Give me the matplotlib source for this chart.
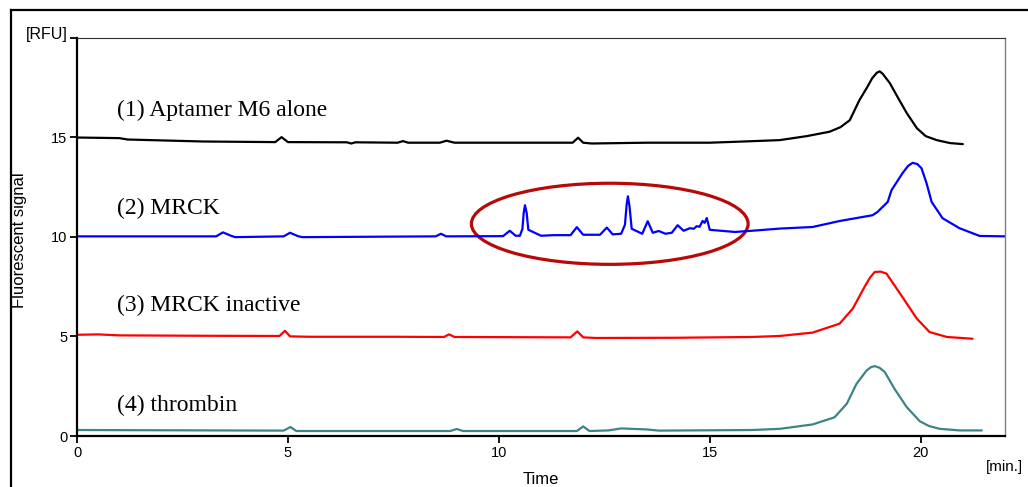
import matplotlib
matplotlib.use("Agg")
import matplotlib.pyplot as plt
from matplotlib.patches import Ellipse
from matplotlib.lines import Line2D

# ---- data (time in min, signal in RFU) ----
t_apt = [0, 1.0, 1.2, 3.0, 4.7, 4.85, 5.0, 6.4, 6.5, 6.6, 7.6, 7.73, 7.85, 8.6, 8.76, 8.95,
         11.75, 11.88, 12.0, 12.2, 13.5, 15.0, 15.8, 16.66, 17.3, 17.84, 18.1, 18.32, 18.55,
         18.74, 18.85, 18.96, 19.03, 19.10, 19.27, 19.47, 19.67, 19.91, 20.12, 20.38, 20.7, 21.0]
v_apt = [14.98, 14.95, 14.88, 14.78, 14.75, 15.0, 14.75, 14.74, 14.68, 14.74, 14.72, 14.8, 14.72,
         14.72, 14.82, 14.72, 14.72, 14.97, 14.72, 14.68, 14.72, 14.72, 14.78, 14.85, 15.05,
         15.27, 15.5, 15.85, 16.86, 17.53, 17.95, 18.23, 18.3, 18.18, 17.71, 16.95, 16.21, 15.45,
         15.05, 14.85, 14.7, 14.65]

t_mrck = [0, 3.3, 3.46, 3.65, 3.75, 4.9, 5.05, 5.25, 5.35, 8.5, 8.63, 8.75, 10.1, 10.26, 10.4,
          10.5, 10.56, 10.59, 10.62, 10.66, 10.7, 11.0, 11.3, 11.7, 11.85, 12.0, 12.4, 12.56, 12.7,
          12.9, 12.99, 13.03, 13.06, 13.1, 13.15, 13.4, 13.53, 13.65, 13.79, 13.95, 14.1, 14.24,
          14.38, 14.53, 14.62, 14.69, 14.76, 14.83, 14.88, 14.93, 15.0, 15.1, 15.6, 16.0, 16.66,
          17.44, 18.08, 18.86, 18.98, 19.22, 19.31, 19.57, 19.7, 19.81, 19.92, 20.02, 20.14,
          20.26, 20.52, 20.92, 21.4, 22.0]
v_mrck = [10.02, 10.02, 10.22, 10.05, 9.98, 10.02, 10.2, 10.02, 9.98, 10.02, 10.15, 10.02, 10.03,
          10.3, 10.05, 10.05, 10.4, 11.2, 11.58, 11.2, 10.35, 10.05, 10.08, 10.08, 10.48, 10.1,
          10.1, 10.46, 10.12, 10.15, 10.6, 11.6, 12.03, 11.5, 10.4, 10.15, 10.78, 10.2, 10.29,
          10.15, 10.2, 10.58, 10.3, 10.43, 10.4, 10.53, 10.5, 10.79, 10.7, 10.94, 10.35, 10.33,
          10.24, 10.3, 10.41, 10.49, 10.79, 11.08, 11.25, 11.75, 12.34, 13.19, 13.55, 13.71,
          13.65, 13.44, 12.69, 11.75, 10.93, 10.43, 10.04, 10.02]

t_inact = [0, 0.5, 1.0, 3.0, 4.8, 4.93, 5.05, 5.5, 7.5, 8.7, 8.82, 8.95, 11.7, 11.86, 12.0, 12.3,
           14.2, 16.0, 16.66, 17.44, 18.08, 18.39, 18.67, 18.8, 18.91, 19.05, 19.19, 19.38,
           19.62, 19.91, 20.21, 20.62, 21.23]
v_inact = [5.08, 5.1, 5.05, 5.03, 5.02, 5.28, 5.0, 4.98, 4.98, 4.97, 5.1, 4.97, 4.95, 5.25, 4.95,
           4.92, 4.93, 4.97, 5.02, 5.19, 5.64, 6.39, 7.48, 7.95, 8.23, 8.25, 8.15, 7.56, 6.81,
           5.89, 5.22, 4.97, 4.88]

t_thr = [0, 4.9, 5.06, 5.2, 8.85, 9.0, 9.15, 11.85, 12.0, 12.15, 12.6, 12.9, 13.5, 13.8, 16.0,
         16.66, 17.44, 17.96, 18.25, 18.48, 18.72, 18.82, 18.91, 19.03, 19.15, 19.38, 19.67,
         19.98, 20.2, 20.45, 20.92, 21.45]
v_thr = [0.3, 0.27, 0.45, 0.25, 0.25, 0.35, 0.25, 0.25, 0.48, 0.25, 0.28, 0.38, 0.33, 0.27, 0.3,
         0.36, 0.58, 0.94, 1.62, 2.62, 3.29, 3.45, 3.51, 3.42, 3.21, 2.37, 1.45, 0.74, 0.5,
         0.36, 0.28, 0.28]

labels = ["(1) Aptamer M6 alone", "(2) MRCK", "(3) MRCK inactive", "(4) thrombin"]
label_y = [16.36, 11.43, 6.56, 1.53]
colors = ["#000000", "#0000ff", "#ff0000", "#3d8585"]

x_ticks = [0, 5, 10, 15, 20]
y_ticks = [0, 5, 10, 15, 20]
y_ticklabels = ["0", "5", "10", "15", ""]

# ---- figure ----
W, H = 1028, 487
fig = plt.figure(figsize=(W / 100, H / 100), dpi=100)
ax = fig.add_axes([77 / W, 1 - 436 / H, (1005 - 77) / W, (436 - 37.5) / H])

series = [(t_apt, v_apt), (t_mrck, v_mrck), (t_inact, v_inact), (t_thr, v_thr)]
for (t, v), c in zip(series, colors):
    ax.plot(t, v, color=c, lw=1.6, solid_joinstyle="round", solid_capstyle="round")

for lab, ly in zip(labels, label_y):
    ax.text(0.95, ly, lab, ha="left", va="center", fontsize=17,
            family="Liberation Serif", color="black")

ax.add_patch(Ellipse((12.63, 10.65), 6.56, 4.07, fill=False, edgecolor="#b80808", lw=2.3))

ax.set_xlim(0, 22)
ax.set_ylim(0, 20)
ax.set_xticks(x_ticks)
ax.set_yticks(y_ticks)
ax.set_yticklabels(y_ticklabels)
ax.tick_params(direction="out", length=5, width=1.3, labelsize=10.5, pad=2)
for lbl in ax.get_xticklabels() + ax.get_yticklabels():
    lbl.set_family("Liberation Sans")

ax.spines["left"].set_linewidth(1.6)
ax.spines["bottom"].set_linewidth(1.6)
ax.spines["top"].set_linewidth(0.8)
ax.spines["top"].set_color("#303030")
ax.spines["right"].set_linewidth(1.0)
ax.spines["right"].set_color("#808080")

fig.text(68 / W, 1 - 34 / H, "[RFU]", ha="right", va="center", fontsize=11.5, family="Liberation Sans")
fig.text(1023 / W, 1 - 467 / H, "[min.]", ha="right", va="center", fontsize=11, family="Liberation Sans")
fig.text(541 / W, 1 - 480 / H, "Time", ha="center", va="center", fontsize=12, family="Liberation Sans")
fig.text(20 / W, 1 - 240 / H, "Fluorescent signal", ha="center", va="center", rotation=90,
         fontsize=12, family="Liberation Sans")

# outer frame
fig.add_artist(Line2D([11 / W, 1.0], [1 - 10 / H, 1 - 10 / H], color="black", lw=1.6,
                      transform=fig.transFigure))
fig.add_artist(Line2D([11 / W, 11 / W], [0, 1 - 10 / H], color="black", lw=1.6,
                      transform=fig.transFigure))

fig.savefig("out.png", dpi=100)
